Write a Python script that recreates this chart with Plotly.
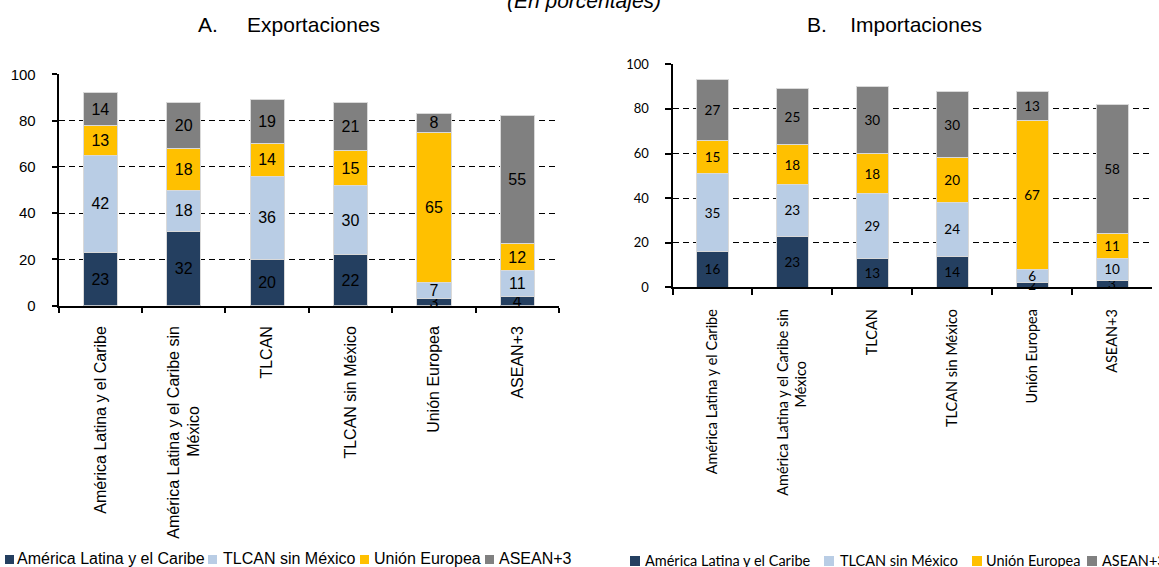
import plotly.graph_objects as go

# ---------------- data ----------------
categories = [
    "América Latina y el Caribe",
    "América Latina y el Caribe sin México",
    "TLCAN",
    "TLCAN sin México",
    "Unión Europea",
    "ASEAN+3",
]
series_names = ["América Latina y el Caribe", "TLCAN sin México", "Unión Europea", "ASEAN+3"]

# A. Exportaciones (percent of each group's exports going to each destination)
exp_alc = [23, 32, 20, 22, 3, 4]
exp_tlcan_sm = [42, 18, 36, 30, 7, 11]
exp_ue = [13, 18, 14, 15, 65, 12]
exp_asean = [14, 20, 19, 21, 8, 55]

# B. Importaciones
imp_alc = [16, 23, 13, 14, 2, 3]
imp_tlcan_sm = [35, 23, 29, 24, 6, 10]
imp_ue = [15, 18, 18, 20, 67, 11]
imp_asean = [27, 25, 30, 30, 13, 58]

y_ticks = [0, 20, 40, 60, 80, 100]

colors = ["#243F60", "#B9CDE5", "#FFC000", "#808080"]

W, H = 1159, 567

ARIAL = "Liberation Sans, Arial, sans-serif"
CALIB = "Lato, Carlito, Calibri, sans-serif"

NB = "\u00a0"
labels_a = [
    "América Latina y el Caribe",
    "América Latina y el Caribe sin<br>México" + NB * 18,
    "TLCAN",
    "TLCAN sin México",
    "Unión Europea",
    "ASEAN+3",
]
labels_b = [
    "América Latina y el Caribe",
    "América Latina y el Caribe sin<br>México" + NB * 14,
    "TLCAN",
    "TLCAN sin México",
    "Unión Europea",
    "ASEAN+3",
]

fig = go.Figure()

exp_series = [exp_alc, exp_tlcan_sm, exp_ue, exp_asean]
imp_series = [imp_alc, imp_tlcan_sm, imp_ue, imp_asean]

for name, vals, col in zip(series_names, exp_series, colors):
    fig.add_trace(go.Bar(
        x=categories, y=vals, name=name, xaxis="x", yaxis="y",
        marker=dict(color=col, line=dict(color="#D9D9D9", width=1)),
        width=0.41,
        text=[str(v) for v in vals], textposition="inside", insidetextanchor="middle",
        textangle=0, constraintext="none", cliponaxis=False,
        textfont=dict(family=ARIAL, size=16, color="#000000"),
        showlegend=False, hoverinfo="name+y",
    ))

for name, vals, col in zip(series_names, imp_series, colors):
    fig.add_trace(go.Bar(
        x=categories, y=vals, name=name, xaxis="x2", yaxis="y2",
        marker=dict(color=col, line=dict(color="#D9D9D9", width=1)),
        width=0.40,
        text=[str(v) for v in vals], textposition="inside", insidetextanchor="middle",
        textangle=0, constraintext="none", cliponaxis=False,
        textfont=dict(family=CALIB, size=13.5, color="#000000"),
        showlegend=False, hoverinfo="name+y",
    ))

def px_x(v):
    return v / W

def px_y(v):
    return 1 - v / H

common_y = dict(
    range=[0, 100], tickvals=y_ticks, showgrid=True, gridcolor="#000000", gridwidth=1.2,
    griddash="6px,4px", zeroline=False, showline=True, linecolor="#000000", linewidth=2,
    ticks="outside", ticklen=5, tickwidth=1.5, tickcolor="#000000", fixedrange=True,
)
common_x = dict(
    type="category", showgrid=False, zeroline=False, showline=True, linecolor="#000000",
    linewidth=2, ticks="outside", tickson="boundaries", ticklen=5, tickwidth=1.5,
    tickcolor="#000000", tickangle=-90, fixedrange=True, automargin=False,
)

fig.update_layout(
    width=W, height=H,
    margin=dict(l=0, r=0, t=0, b=0, pad=0, autoexpand=False),
    paper_bgcolor="white", plot_bgcolor="white",
    barmode="stack",
    showlegend=False,
    xaxis=dict(common_x, domain=[px_x(58.7), px_x(559)], anchor="y",
               tickvals=categories, ticktext=labels_a,
               tickfont=dict(family=ARIAL, size=16, color="#000000"),
               ticklabelstandoff=12),
    yaxis=dict(common_y, domain=[px_y(305.7), px_y(74.3)], anchor="x",
               tickfont=dict(family=ARIAL, size=15, color="#000000"),
               ticklabelstandoff=13, automargin=False),
    xaxis2=dict(common_x, domain=[px_x(672.5), px_x(1152)], anchor="y2",
                tickvals=categories, ticktext=labels_b, ticklen=6,
                tickfont=dict(family=CALIB, size=14.5, color="#000000"),
                ticklabelstandoff=14),
    yaxis2=dict(common_y, domain=[px_y(287.3), px_y(64.3)], anchor="x2", ticklen=6,
                tickfont=dict(family=CALIB, size=13, color="#000000"),
                ticklabelstandoff=13, automargin=False),
)

annotations = [
    dict(text="<i>(En porcentajes)</i>", x=px_x(584), y=px_y(1), xref="paper", yref="paper",
         xanchor="center", yanchor="middle", showarrow=False,
         font=dict(family=ARIAL, size=21, color="#000000")),
    dict(text="A." + NB * 5 + "Exportaciones", x=px_x(288.5), y=px_y(24), xref="paper", yref="paper",
         xanchor="center", yanchor="middle", showarrow=False,
         font=dict(family=ARIAL, size=21, color="#000000")),
    dict(text="B." + NB * 4 + "Importaciones", x=px_x(894), y=px_y(24), xref="paper", yref="paper",
         xanchor="center", yanchor="middle", showarrow=False,
         font=dict(family=ARIAL, size=21, color="#000000")),
]

shapes = []
# legend A
leg_a_marker = [5, 208, 360, 485]
leg_a_text = [16, 222, 373, 498]
for name, col, mx, tx in zip(series_names, colors, leg_a_marker, leg_a_text):
    shapes.append(dict(type="rect", xref="paper", yref="paper",
                       x0=px_x(mx), x1=px_x(mx + 9), y0=px_y(564), y1=px_y(555),
                       fillcolor=col, line=dict(width=0)))
    annotations.append(dict(text=name, x=px_x(tx), y=px_y(558.5), xref="paper", yref="paper",
                            xanchor="left", yanchor="middle", showarrow=False, borderpad=0,
                            font=dict(family=ARIAL, size=16, color="#000000")))
# legend B
leg_b_marker = [630, 824, 972, 1087]
leg_b_text = [644, 839, 985, 1101]
for name, col, mx, tx in zip(series_names, colors, leg_b_marker, leg_b_text):
    shapes.append(dict(type="rect", xref="paper", yref="paper",
                       x0=px_x(mx), x1=px_x(mx + 10), y0=px_y(566), y1=px_y(556),
                       fillcolor=col, line=dict(width=0)))
    annotations.append(dict(text=name, x=px_x(tx), y=px_y(560), xref="paper", yref="paper",
                            xanchor="left", yanchor="middle", showarrow=False, borderpad=0,
                            font=dict(family=CALIB, size=14.5, color="#000000")))

fig.update_layout(annotations=annotations, shapes=shapes)

fig.write_html(
    "out.html",
    config={"displayModeBar": False},
    post_script="document.body.style.margin='0px';document.body.style.overflow='hidden';",
)
